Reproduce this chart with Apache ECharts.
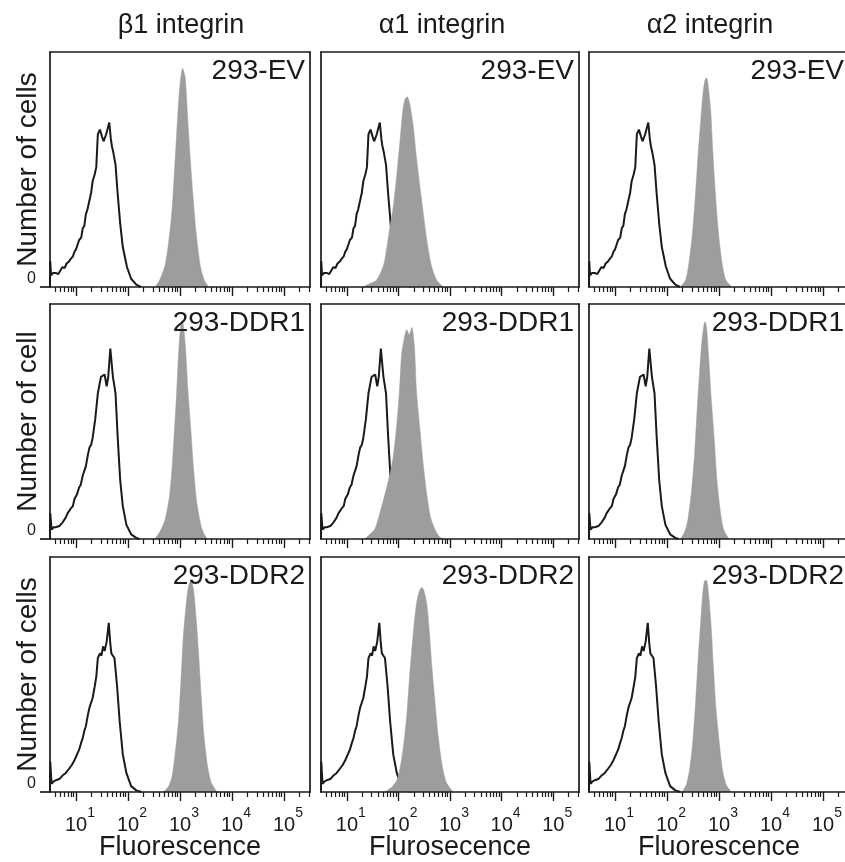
<!DOCTYPE html>
<html><head><meta charset="utf-8">
<script src="https://cdn.jsdelivr.net/npm/echarts@6/dist/echarts.min.js"></script>
<style>html,body{margin:0;padding:0;background:#fff;overflow:hidden}#c{width:845px;height:862px}</style>
</head><body><div id="c"></div>
<script>
// ---------- DATA (x = log10 fluorescence, y = % of panel height) ----------
const columnTitles = ['β1 integrin', 'α1 integrin', 'α2 integrin'];
const rowLabels = ['293-EV', '293-DDR1', '293-DDR2'];
const yNames = ['Number of cells', 'Number of cell', 'Number of cells'];
const xNames = ['Fluorescence', 'Flurosecence', 'Fluorescence'];
const majorTicks = [1, 2, 3, 4, 5];
const minorMultipliers = [2, 3, 4, 5, 6, 7, 8, 9];
const xRange = [0.5, 5.5];

// isotype control (black outline), one per row
const ctrlEV = [[0.5,0],[0.505,11],[0.52,5],[0.56,6],[0.61,6],[0.66,5.5],[0.7,7],[0.74,8.5],[0.78,8],[0.82,10],[0.87,11],[0.9,12],[0.94,13],[0.97,15],[1.0,16],[1.03,18],[1.06,20],[1.1,21],[1.13,25],[1.16,26],[1.19,31],[1.22,33],[1.26,37],[1.29,40],[1.32,45],[1.36,48],[1.39,51],[1.42,65],[1.46,67],[1.5,64],[1.53,62],[1.58,65],[1.64,70],[1.67,63],[1.69,60],[1.72,57],[1.76,52],[1.8,40],[1.85,27],[1.9,17],[1.98,8.5],[2.06,3.5],[2.16,1],[2.25,0]];
const ctrlDDR1 = [[0.5,0],[0.505,11],[0.53,4],[0.57,5],[0.61,5],[0.68,5.5],[0.74,7],[0.8,9],[0.84,11],[0.87,11.5],[0.9,13],[0.94,14],[0.97,17],[1.02,19],[1.06,22],[1.09,23],[1.13,27],[1.16,29],[1.19,31],[1.23,36],[1.26,39],[1.29,40],[1.32,43],[1.37,51],[1.42,62],[1.48,69],[1.55,70],[1.59,65],[1.62,69],[1.66,81],[1.71,69],[1.76,62],[1.8,44],[1.85,25],[1.9,14],[1.97,6],[2.06,2],[2.16,0.5],[2.22,0]];
const ctrlDDR2 = [[0.5,0],[0.505,13],[0.53,3.5],[0.57,4.5],[0.61,5],[0.68,5.5],[0.74,7],[0.8,8],[0.87,10],[0.92,11.5],[0.97,13.5],[1.02,16],[1.06,18],[1.1,21],[1.13,23],[1.16,26],[1.19,28],[1.23,33],[1.26,36],[1.29,38],[1.32,40],[1.36,45],[1.39,49],[1.42,57],[1.46,59],[1.49,58],[1.52,62],[1.55,60],[1.59,64],[1.63,72],[1.66,63],[1.68,59],[1.71,58],[1.74,57],[1.79,45],[1.84,30],[1.9,16],[1.97,8],[2.06,2.5],[2.16,0.7],[2.26,0]];

// stained samples (grey filled)
const b1EV = [[2.52,0],[2.61,3],[2.71,9],[2.77,17],[2.84,31],[2.89,48],[2.935,65],[2.98,81],[3.02,90],[3.05,93],[3.1,89],[3.14,75],[3.19,57],[3.245,40],[3.31,23],[3.39,9],[3.465,3],[3.55,0]];
const a1EV = [[1.32,0],[1.45,1.5],[1.58,3],[1.71,9],[1.77,16],[1.84,26],[1.9,34],[1.97,48],[2.03,62],[2.09,76],[2.13,80],[2.17,81],[2.22,78],[2.29,68],[2.35,55],[2.45,37],[2.55,20],[2.64,9],[2.74,3],[2.87,0]];
const a2EV = [[2.26,0],[2.36,3],[2.42,10],[2.49,23],[2.55,40],[2.6,57],[2.65,71],[2.69,82],[2.73,88],[2.76,89],[2.79,86],[2.84,75],[2.88,58],[2.93,40],[2.99,23],[3.06,10],[3.13,3],[3.25,0]];
const b1DDR1 = [[2.516,0],[2.61,3],[2.71,8],[2.79,17],[2.84,28],[2.89,45],[2.935,62],[2.97,78],[3.01,90],[3.04,93],[3.07,90],[3.11,80],[3.15,64],[3.21,46],[3.26,30],[3.32,16],[3.4,6],[3.465,2],[3.53,0]];
const a1DDR1 = [[1.35,0],[1.45,2],[1.55,4.5],[1.64,11],[1.74,19],[1.84,28],[1.9,35],[1.97,49],[2.02,63],[2.06,78],[2.11,85],[2.16,89],[2.21,87],[2.26,90],[2.31,82],[2.35,63],[2.42,46],[2.48,32],[2.55,19],[2.62,9.5],[2.71,4],[2.79,1],[2.87,0]];
const a2DDR1 = [[2.26,0],[2.34,3],[2.4,8],[2.47,20],[2.53,36],[2.58,55],[2.63,72],[2.67,84],[2.71,91],[2.73,92.5],[2.76,90],[2.8,78],[2.85,60],[2.91,42],[2.96,25],[3.03,11],[3.09,4],[3.19,0]];
const b1DDR2 = [[2.68,0],[2.77,2],[2.84,6],[2.9,15],[2.97,30],[3.02,48],[3.06,65],[3.11,78],[3.16,87],[3.21,90],[3.26,86],[3.31,74],[3.36,58],[3.41,40],[3.46,24],[3.53,11],[3.6,4],[3.71,0]];
const a1DDR2 = [[1.74,0],[1.87,2],[1.97,5],[2.03,10],[2.09,18],[2.16,32],[2.22,50],[2.29,68],[2.35,80],[2.4,85],[2.45,87],[2.49,86],[2.55,80],[2.6,68],[2.65,53],[2.71,38],[2.77,24],[2.85,11],[2.93,4],[3.06,0]];
const a2DDR2 = [[2.29,0],[2.37,3],[2.43,9],[2.49,20],[2.55,38],[2.6,57],[2.65,73],[2.69,85],[2.73,90],[2.76,90],[2.8,84],[2.85,70],[2.89,54],[2.94,36],[3.01,20],[3.07,9],[3.14,3],[3.24,0]];

const controls = [ctrlEV, ctrlDDR1, ctrlDDR2];
const samples = [[b1EV, a1EV, a2EV], [b1DDR1, a1DDR1, a2DDR1], [b1DDR2, a1DDR2, a2DDR2]];

// ---------- LAYOUT ----------
const colLeft = [50, 321, 589];
const colWidth = [260, 258, 260];
const rowTop = [52, 304, 557];
const panelH = 235;
const titleX = [181, 442, 710];
const FONT = 'Liberation Sans, Arial, Helvetica, sans-serif';
const INK = '#1a1a1a';
const GREY = '#9d9d9d';
const LW = 1.7;

const minorTicks = [];
for (let e = 0; e <= 5; e++) for (const m of minorMultipliers) {
  const v = Math.log10(m * Math.pow(10, e));
  if (v > xRange[0] && v < xRange[1]) minorTicks.push(v);
}

const grid = [], xAxis = [], yAxis = [], series = [], graphic = [];
for (let r = 0; r < 3; r++) {
  for (let c = 0; c < 3; c++) {
    const gi = r * 3 + c;
    grid.push({ left: colLeft[c], top: rowTop[r], width: colWidth[c], height: panelH,
      show: false, containLabel: false, outerBoundsMode: 'none' });
    const bottomRow = r === 2;
    const xMain = xAxis.length;
    xAxis.push({ type: 'value', gridIndex: gi, min: xRange[0], max: xRange[1], position: 'bottom', z: 5,
      axisLine: { show: true, onZero: false, lineStyle: { color: INK, width: LW } },
      axisTick: { show: true, customValues: majorTicks, length: 9, lineStyle: { color: INK, width: 1.4 } },
      splitLine: { show: false },
      axisLabel: { show: bottomRow, customValues: majorTicks, margin: 14,
        formatter: v => '{b|10}{s|' + v + '}',
        rich: { b: { fontSize: 20, fontFamily: FONT, color: INK, verticalAlign: 'bottom', padding: [0, 0, 0, 8] },
                s: { fontSize: 14, fontFamily: FONT, color: INK, verticalAlign: 'bottom', padding: [0, 0, 15, 0] } } },
      name: bottomRow ? xNames[c] : '', nameLocation: 'middle', nameGap: 42, nameMoveOverlap: false,
      nameTextStyle: { fontSize: 27, fontFamily: FONT, color: INK }
    });
    xAxis.push({ type: 'value', gridIndex: gi, min: xRange[0], max: xRange[1], position: 'bottom', z: 5,
      axisLine: { show: false, onZero: false },
      axisTick: { show: true, customValues: minorTicks, length: 5, lineStyle: { color: INK, width: 1.2 } },
      splitLine: { show: false }, axisLabel: { show: false } });
    // top frame line
    xAxis.push({ type: 'value', gridIndex: gi, min: xRange[0], max: xRange[1], position: 'top', z: 5,
      axisLine: { show: true, onZero: false, lineStyle: { color: INK, width: LW } },
      axisTick: { show: false }, splitLine: { show: false }, axisLabel: { show: false } });
    const firstCol = c === 0;
    const yMain = yAxis.length;
    yAxis.push({ type: 'value', gridIndex: gi, min: 0, max: 100, z: 5, position: 'left',
      axisLine: { show: true, onZero: false, lineStyle: { color: INK, width: LW } },
      axisTick: { show: firstCol, customValues: [0], length: 10, lineStyle: { color: INK, width: LW } },
      axisLabel: { show: firstCol, customValues: [0], margin: 14, fontSize: 16, fontFamily: FONT, color: INK,
        verticalAlign: 'bottom', formatter: v => String(v) },
      splitLine: { show: false },
      name: firstCol ? yNames[r] : '', nameLocation: 'middle', nameGap: 8, nameMoveOverlap: false,
      nameTextStyle: { fontSize: 28, fontFamily: FONT, color: INK }
    });
    // right frame line (the third column's right edge lies outside the cropped figure)
    yAxis.push({ type: 'value', gridIndex: gi, min: 0, max: 100, z: 5, position: 'right',
      axisLine: { show: c < 2, onZero: false, lineStyle: { color: INK, width: LW } },
      axisTick: { show: false }, splitLine: { show: false }, axisLabel: { show: false } });
    series.push({ type: 'line', xAxisIndex: xMain, yAxisIndex: yMain, data: controls[r],
      symbol: 'none', smooth: false, clip: true, lineStyle: { color: INK, width: 2 }, z: 2 });
    series.push({ type: 'line', xAxisIndex: xMain, yAxisIndex: yMain, data: samples[r][c],
      symbol: 'none', smooth: 0.25, clip: true, lineStyle: { color: GREY, width: 0.5 },
      areaStyle: { color: GREY, opacity: 1 }, z: 3 });
    graphic.push({ type: 'text', z: 10, x: colLeft[c] + colWidth[c] - 5, y: rowTop[r] + 5,
      style: { text: rowLabels[r], font: '28px ' + FONT, fill: INK, align: 'right', verticalAlign: 'top' } });
  }
}
for (let c = 0; c < 3; c++) {
  graphic.push({ type: 'text', z: 10, x: titleX[c], y: 26,
    style: { text: columnTitles[c], font: '27px ' + FONT, fill: INK, align: 'center', verticalAlign: 'middle' } });
}

const chart = echarts.init(document.getElementById('c'), null, { renderer: 'canvas' });
chart.setOption({ backgroundColor: '#fff', animation: false, grid, xAxis, yAxis, series, graphic });
</script></body></html>
